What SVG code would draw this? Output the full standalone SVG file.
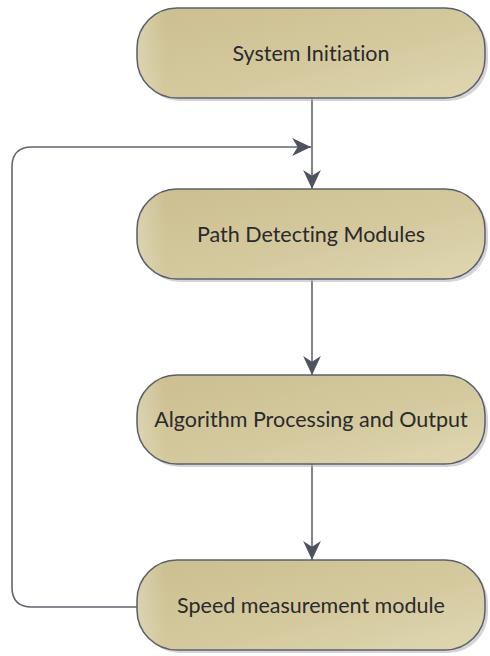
<svg xmlns="http://www.w3.org/2000/svg" width="490" height="656" viewBox="0 0 490 656">
<defs>
<linearGradient id="fill" x1="0" y1="0" x2="1" y2="1">
<stop offset="0" stop-color="#cbbf90"/>
<stop offset="0.6" stop-color="#d5ca9f"/>
<stop offset="1" stop-color="#e0d7b3"/>
</linearGradient>
<linearGradient id="hl" x1="0" y1="0" x2="1" y2="0">
<stop offset="0" stop-color="#ffffff" stop-opacity="0.25"/>
<stop offset="0.08" stop-color="#ffffff" stop-opacity="0"/>
</linearGradient>
<marker id="arr" markerUnits="userSpaceOnUse" markerWidth="20" markerHeight="20" viewBox="0 -9 18 18" refX="17" refY="0" orient="auto">
<path d="M0,-8 L17,0 L0,8 L5,0 z" fill="#4f535e"/>
</marker>
</defs>
<style>
.shadow{fill:#b8b8bc;opacity:0.6}
.box{fill:url(#fill);stroke:#5b5f69;stroke-width:1.5}
.hl{fill:url(#hl)}
.lbl{font-family:Lato,"Open Sans","Liberation Sans",sans-serif;font-size:21.5px;fill:#2a2a2a;text-anchor:middle;font-variant-ligatures:none}
.con{fill:none;stroke:#62656e;stroke-width:1.6}
</style>
<g id="connectors">
<path class="con" d="M312,98 L312,189" marker-end="url(#arr)"/>
<path class="con" d="M312,279 L312,375" marker-end="url(#arr)"/>
<path class="con" d="M312,464 L312,560" marker-end="url(#arr)"/>
<path class="con" d="M137,607 L32,607 Q12,607 12,587 L12,167 Q12,147 32,147 L311,147" marker-end="url(#arr)"/>
</g>
<g id="n1">
<rect class="shadow" x="140" y="11" width="348" height="90" rx="40"/>
<rect class="box" x="137" y="8" width="348" height="90" rx="40"/>
<rect class="hl" x="138" y="9" width="346" height="88" rx="39"/>
<text class="lbl" x="311" y="61">System Initiation</text>
</g>
<g id="n2">
<rect class="shadow" x="140" y="192" width="348" height="90" rx="40"/>
<rect class="box" x="137" y="189" width="348" height="90" rx="40"/>
<rect class="hl" x="138" y="190" width="346" height="88" rx="39"/>
<text class="lbl" x="311" y="242">Path Detecting Modules</text>
</g>
<g id="n3">
<rect class="shadow" x="140" y="378" width="348" height="89" rx="40"/>
<rect class="box" x="137" y="375" width="348" height="89" rx="40"/>
<rect class="hl" x="138" y="376" width="346" height="87" rx="39"/>
<text class="lbl" x="311" y="427">Algorithm Processing and Output</text>
</g>
<g id="n4">
<rect class="shadow" x="140" y="563" width="348" height="90" rx="40"/>
<rect class="box" x="137" y="560" width="348" height="90" rx="40"/>
<rect class="hl" x="138" y="561" width="346" height="88" rx="39"/>
<text class="lbl" x="311" y="613">Speed measurement module</text>
</g>
</svg>
